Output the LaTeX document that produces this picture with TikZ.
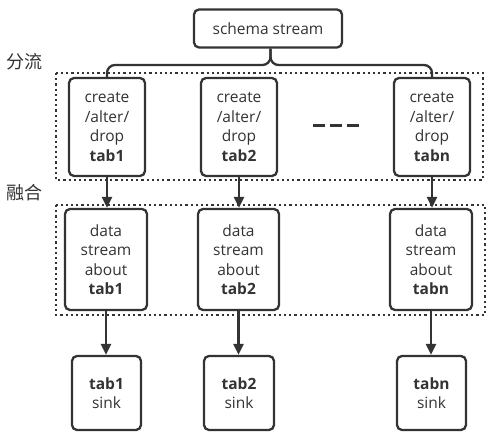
\documentclass[tikz,border=0pt]{standalone}
\usepackage{fontspec}
\setmainfont{Open Sans}
\newfontfamily\cjk{Noto Sans CJK SC}
\usetikzlibrary{arrows.meta}
\definecolor{ink}{HTML}{333333}
\begin{document}
\begin{tikzpicture}[x=1pt,y=-1pt,
  box/.style={draw=ink, line width=2.3pt, rounded corners=5pt, text=ink, align=center,
    inner sep=0pt, font=\fontsize{15.5}{19.5}\selectfont},
  group/.style={draw=ink, line width=2.2pt, dash pattern=on 2.2pt off 3pt},
  link/.style={draw=ink, line width=2.3pt},
  arr/.style={link, -{Triangle[length=11pt,width=10pt]}},
  zh/.style={text=ink, font=\cjk\fontsize{18}{20}\selectfont, inner sep=0pt}]
\useasboundingbox (0,0) rectangle (494,443);
% groups
\draw[group] (56,73) rectangle (483,180);
\draw[group] (56,205) rectangle (485,315);
% nodes
\node[box, minimum width=148pt, minimum height=38pt] (schema) at (268,28.5) {schema stream};
\node[box, minimum width=76pt, minimum height=98pt] (c1) at (107,127) {create\\/alter/\\drop\\\textbf{tab1}};
\node[box, minimum width=76pt, minimum height=98pt] (c2) at (239,127) {create\\/alter/\\drop\\\textbf{tab2}};
\node[box, minimum width=76pt, minimum height=98pt] (cn) at (432,127) {create\\/alter/\\drop\\\textbf{tabn}};
\node[box, minimum width=82pt, minimum height=101pt] (d1) at (106,259.5) {data\\stream\\about\\\textbf{tab1}};
\node[box, minimum width=81pt, minimum height=101pt] (d2) at (238.5,259.5) {data\\stream\\about\\\textbf{tab2}};
\node[box, minimum width=82pt, minimum height=101pt] (dn) at (431,259.5) {data\\stream\\about\\\textbf{tabn}};
\node[box, minimum width=69pt, minimum height=74pt] (s1) at (106.5,393) {\textbf{tab1}\\sink};
\node[box, minimum width=70pt, minimum height=74pt] (s2) at (239,393) {\textbf{tab2}\\sink};
\node[box, minimum width=69pt, minimum height=74pt] (sn) at (431.5,393) {\textbf{tabn}\\sink};
% labels
\node[zh] (l1) at (24,62) {分流};
\node[zh] (l2) at (24,193) {融合};
% dashes
\node[inner sep=0pt] (dots) at (336,126) {};
\draw[draw=ink, line width=3pt, dash pattern=on 12pt off 5pt] ([xshift=-23pt]dots.center) -- ([xshift=23pt]dots.center);
% brace
\coordinate (bc) at (270.5,65);
\draw[link, rounded corners=8pt] (schema.south -| bc) -- (bc) -| (c1.north);
\draw[link, rounded corners=8pt] (schema.south -| bc) -- (bc) -| (cn.north);
% arrows
\foreach \a/\b in {c1/d1,c2/d2,cn/dn,d1/s1,d2/s2,dn/sn}
  \draw[arr] (\a.south) -- (\a.south |- \b.north);
\end{tikzpicture}
\end{document}
